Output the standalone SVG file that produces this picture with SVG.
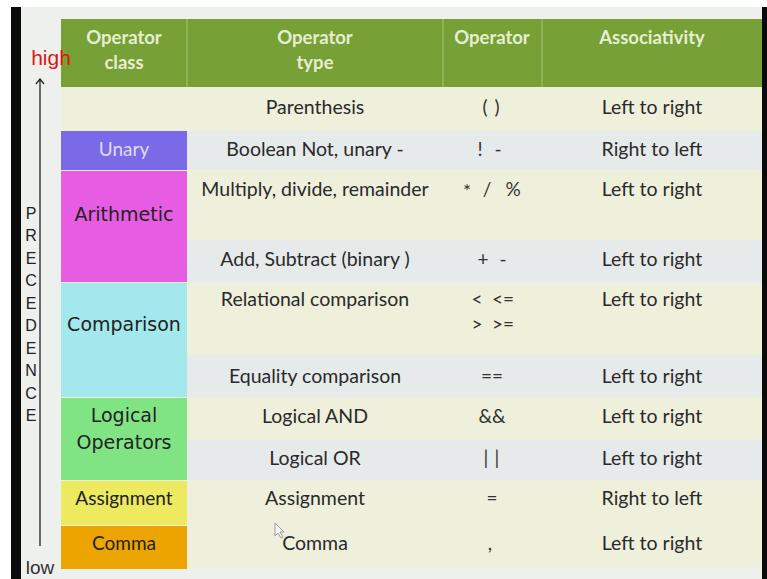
<svg xmlns="http://www.w3.org/2000/svg" width="767" height="579" viewBox="0 0 767 579">
<style>
.hd{font-family:"Lato","Liberation Sans",sans-serif;font-weight:bold;font-size:18.5px;fill:#e6eed2;text-anchor:middle}
.tx{font-family:"Lato","Liberation Sans",sans-serif;font-size:19.5px;fill:#2a2a2a;text-anchor:middle}
.op{font-family:"Lato","Liberation Sans",sans-serif;font-size:19px;fill:#333;text-anchor:middle}
.cs{font-family:"DejaVu Sans","Liberation Sans",sans-serif;font-size:19px;fill:#222;text-anchor:middle}
.pl{font-family:"Lato","Liberation Sans",sans-serif;font-size:19px;fill:#222;text-anchor:middle}
.lt{font-family:"Liberation Sans",sans-serif;font-size:16px;fill:#222;text-anchor:middle}
.cream{fill:#eef0dc}
.gray{fill:#e6eaea}
</style>
<defs>
<marker id="ah" markerWidth="10" markerHeight="10" refX="5" refY="1" orient="0" markerUnits="userSpaceOnUse">
<path d="M1,6 L5,1 L9,6" fill="none" stroke="#222" stroke-width="1.3"/>
</marker>
</defs>
<rect x="0" y="0" width="767" height="579" fill="#ffffff"/>
<rect x="11" y="7" width="10" height="572" fill="#0a0a0a"/>
<rect x="762" y="7" width="5" height="572" fill="#0a0a0a"/>
<rect x="21" y="7" width="741" height="572" fill="#eef0ee"/>

<g id="header">
<rect x="61" y="19" width="701" height="68" fill="#77a036"/>
<line x1="187" y1="19" x2="187" y2="87" stroke="#a6c476" stroke-width="1"/>
<line x1="443" y1="19" x2="443" y2="87" stroke="#a6c476" stroke-width="1"/>
<line x1="542" y1="19" x2="542" y2="87" stroke="#a6c476" stroke-width="1"/>
<text class="hd" x="124" y="44">Operator</text>
<text class="hd" x="124" y="69">class</text>
<text class="hd" x="315" y="44">Operator</text>
<text class="hd" x="315" y="69">type</text>
<text class="hd" x="492" y="44">Operator</text>
<text class="hd" x="652" y="44">Associativity</text>
</g>

<g id="rows">
<rect class="cream" x="61" y="87" width="701" height="44"/>
<rect class="gray" x="61" y="131" width="701" height="39"/>
<rect class="cream" x="61" y="170" width="701" height="70"/>
<rect class="gray" x="61" y="240" width="701" height="43"/>
<rect class="cream" x="61" y="283" width="701" height="72"/>
<rect class="gray" x="61" y="355" width="701" height="42"/>
<rect class="cream" x="61" y="397" width="701" height="43"/>
<rect class="gray" x="61" y="440" width="701" height="40"/>
<rect class="cream" x="61" y="480" width="701" height="45"/>
<rect class="cream" x="61" y="525" width="701" height="44"/>
</g>

<g id="row-parenthesis">
<text class="tx" x="315" y="114">Parenthesis</text>
<text class="op" x="485" y="114">(</text>
<text class="op" x="497" y="114">)</text>
<text class="tx" x="652" y="114">Left to right</text>
</g>

<g id="class-unary">
<rect x="61" y="131" width="126" height="39" fill="#7b6ae8"/>
<text class="pl" x="124" y="156" style="fill:#dcdcf4">Unary</text>
</g>
<g id="row-unary">
<text class="tx" x="315" y="156">Boolean Not, unary -</text>
<text class="op" x="480" y="156">!</text>
<text class="op" x="498" y="156">-</text>
<text class="tx" x="652" y="156">Right to left</text>
</g>

<g id="class-arithmetic">
<rect x="61" y="171" width="126" height="111" fill="#e65ce2"/>
<text class="cs" x="124" y="221">Arithmetic</text>
</g>
<g id="row-multiply">
<text class="tx" x="315" y="196">Multiply, divide, remainder</text>
<text class="op" x="467" y="198">*</text>
<text class="op" x="487" y="196">/</text>
<text class="op" x="513" y="196">%</text>
<text class="tx" x="652" y="196">Left to right</text>
</g>
<g id="row-add">
<text class="tx" x="315" y="266">Add, Subtract (binary )</text>
<text class="op" x="483" y="266">+</text>
<text class="op" x="503" y="266">-</text>
<text class="tx" x="652" y="266">Left to right</text>
</g>

<g id="class-comparison">
<rect x="61" y="283" width="126" height="114" fill="#a2e8ec"/>
<text class="cs" x="124" y="331">Comparison</text>
</g>
<g id="row-relational">
<text class="tx" x="315" y="306">Relational comparison</text>
<text class="op" x="477" y="306">&lt;</text>
<text class="op" x="503" y="306">&lt;=</text>
<text class="op" x="477" y="331">&gt;</text>
<text class="op" x="503" y="331">&gt;=</text>
<text class="tx" x="652" y="306">Left to right</text>
</g>
<g id="row-equality">
<text class="tx" x="315" y="383">Equality comparison</text>
<text class="op" x="492" y="383">==</text>
<text class="tx" x="652" y="383">Left to right</text>
</g>

<g id="class-logical">
<rect x="61" y="398" width="126" height="82" fill="#80e484"/>
<text class="cs" x="124" y="422">Logical</text>
<text class="cs" x="124" y="449">Operators</text>
</g>
<g id="row-and">
<text class="tx" x="315" y="423">Logical AND</text>
<text class="op" x="492" y="423">&amp;&amp;</text>
<text class="tx" x="652" y="423">Left to right</text>
</g>
<g id="row-or">
<text class="tx" x="315" y="465">Logical OR</text>
<text class="op" x="486" y="465">|</text>
<text class="op" x="497" y="465">|</text>
<text class="tx" x="652" y="465">Left to right</text>
</g>

<g id="class-assignment">
<rect x="61" y="481" width="126" height="44" fill="#eeea60"/>
<text class="pl" x="124" y="505">Assignment</text>
</g>
<g id="row-assignment">
<text class="tx" x="315" y="505">Assignment</text>
<text class="op" x="492" y="505">=</text>
<text class="tx" x="652" y="505">Right to left</text>
</g>

<g id="class-comma">
<rect x="61" y="526" width="126" height="43" fill="#eca400"/>
<text class="pl" x="124" y="550">Comma</text>
</g>
<g id="row-comma">
<text class="tx" x="315" y="550">Comma</text>
<text class="op" x="490" y="550">,</text>
<text class="tx" x="652" y="550">Left to right</text>
</g>

<g id="cursor">
<path d="M275,523 L275,536 L278,533 L281,538 L283,537 L280,532 L284,532 Z" fill="#f4f4f4" stroke="#888" stroke-width="0.8"/>
</g>

<g id="connectors">
<line x1="40" y1="546" x2="40" y2="79" stroke="#222" stroke-width="1.3" marker-end="url(#ah)"/>
</g>

<g id="precedence-axis">
<text x="51" y="65" font-family="Liberation Sans,sans-serif" font-size="21" fill="#d81818" text-anchor="middle">high</text>
<text x="40" y="574" font-family="Liberation Sans,sans-serif" font-size="19" fill="#333" text-anchor="middle">low</text>
<g class="lt">
<text x="31" y="219">P</text>
<text x="31" y="241">R</text>
<text x="31" y="264">E</text>
<text x="31" y="286">C</text>
<text x="31" y="309">E</text>
<text x="31" y="331">D</text>
<text x="31" y="354">E</text>
<text x="31" y="376">N</text>
<text x="31" y="399">C</text>
<text x="31" y="421">E</text>
</g>
</g>
</svg>
